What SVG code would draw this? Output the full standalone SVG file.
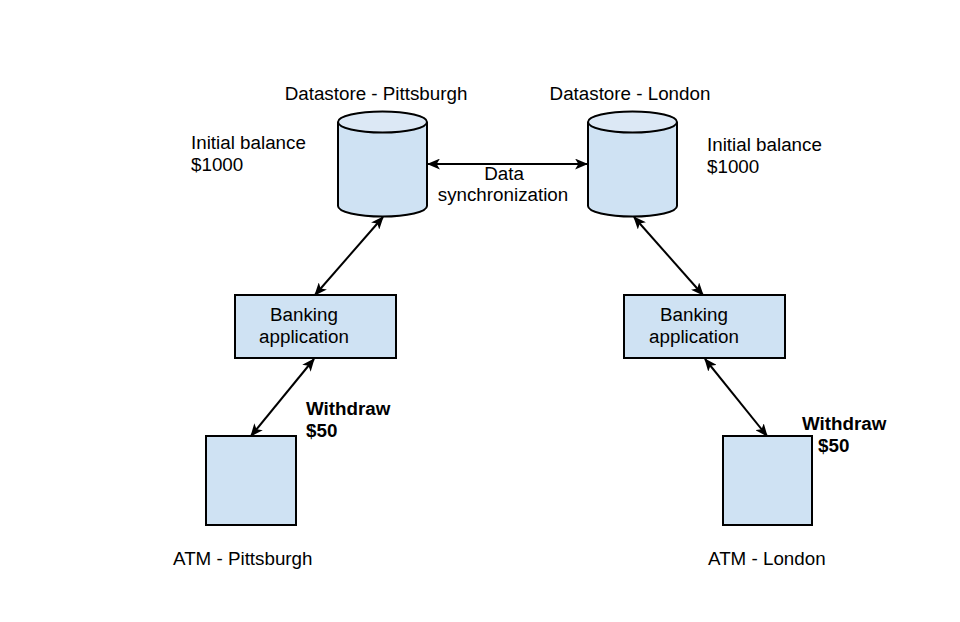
<svg xmlns="http://www.w3.org/2000/svg" width="960" height="622" viewBox="0 0 960 622">
<defs>
<style>
.t{font-family:"Liberation Sans",Arial,sans-serif;font-size:18.8px;fill:#000}
.b{font-weight:bold}
.box{fill:#cfe2f3;stroke:#000;stroke-width:2}
.top{fill:#dce8f5;stroke:#000;stroke-width:2}
.c{stroke:#000;stroke-width:2;fill:none;marker-start:url(#ah);marker-end:url(#ah)}
</style>
<marker id="ah" viewBox="0 0 12 10" refX="11" refY="5" markerWidth="13" markerHeight="11" markerUnits="userSpaceOnUse" orient="auto-start-reverse">
<path d="M0,0 L12,5 L0,10 L3,5 Z" fill="#000"/>
</marker>
</defs>
<rect width="960" height="622" fill="#fff"/>
<g id="datastore-pittsburgh">
<path class="box" d="M338,122 L338,206 A44.5,10.5 0 0 0 427,206 L427,122"/>
<ellipse class="top" cx="382.5" cy="122" rx="44.5" ry="10.5"/>
<text class="t" x="376" y="100" text-anchor="middle">Datastore - Pittsburgh</text>
<text class="t" x="191" y="149">Initial balance</text>
<text class="t" x="191" y="171">$1000</text>
</g>
<g id="datastore-london">
<path class="box" d="M588,122 L588,206 A44.5,10.5 0 0 0 677,206 L677,122"/>
<ellipse class="top" cx="632.5" cy="122" rx="44.5" ry="10.5"/>
<text class="t" x="630" y="100" text-anchor="middle">Datastore - London</text>
<text class="t" x="707" y="151">Initial balance</text>
<text class="t" x="707" y="173">$1000</text>
</g>
<g id="bank-pittsburgh">
<rect class="box" x="235" y="295" width="161" height="63"/>
<text class="t" x="304" y="321" text-anchor="middle">Banking</text>
<text class="t" x="304" y="343" text-anchor="middle">application</text>
</g>
<g id="bank-london">
<rect class="box" x="624" y="295" width="161" height="63"/>
<text class="t" x="694" y="321" text-anchor="middle">Banking</text>
<text class="t" x="694" y="343" text-anchor="middle">application</text>
</g>
<g id="atm-pittsburgh">
<rect class="box" x="206" y="436" width="90" height="89"/>
<text class="t" x="173" y="565">ATM - Pittsburgh</text>
</g>
<g id="atm-london">
<rect class="box" x="723" y="436" width="89" height="89"/>
<text class="t" x="708" y="565">ATM - London</text>
</g>
<g id="connectors">
<line class="c" x1="428" y1="164" x2="587" y2="164"/>
<line class="c" x1="383" y1="217" x2="315" y2="295"/>
<line class="c" x1="314" y1="359" x2="251" y2="436"/>
<line class="c" x1="634" y1="217" x2="703" y2="295"/>
<line class="c" x1="705" y1="359" x2="767" y2="436"/>
</g>
<g id="labels">
<text class="t" x="504" y="180" text-anchor="middle">Data</text>
<text class="t" x="503" y="201" text-anchor="middle">synchronization</text>
<text class="t b" x="306" y="415">Withdraw</text>
<text class="t b" x="306" y="437">$50</text>
<text class="t b" x="802" y="430">Withdraw</text>
<text class="t b" x="818" y="452">$50</text>
</g>
</svg>
